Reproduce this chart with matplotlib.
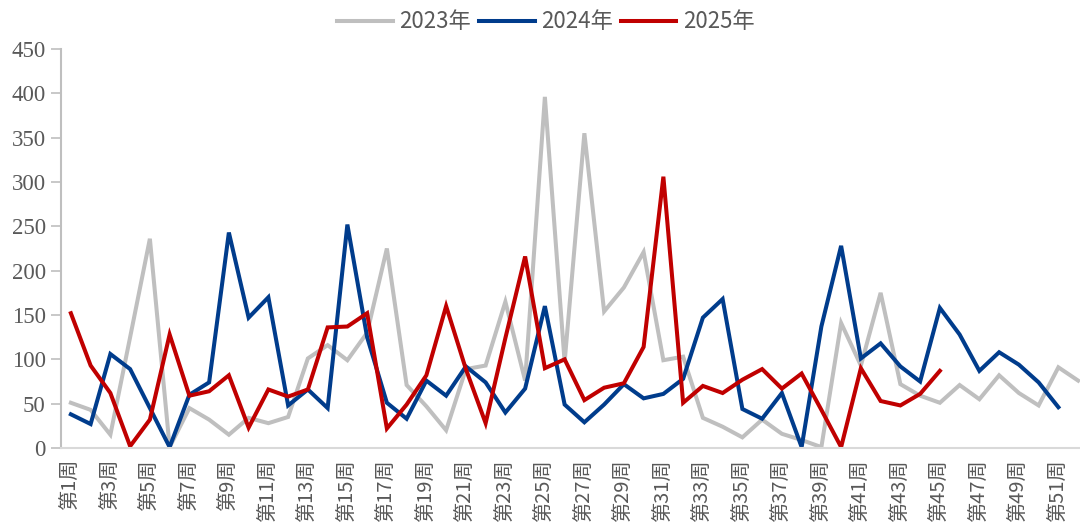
import numpy as np
import matplotlib
matplotlib.use("Agg")
import matplotlib.pyplot as plt

plt.rcParams['font.family'] = ['Noto Sans CJK SC', 'DejaVu Sans']

# datos semanales
semanas = list(range(1, 53))
etiquetas = ["第%d周" % s for s in semanas]

serie_2023 = [51, 43, 15, 125, 236, 1, 45, 32, 15, 34, 28, 35, 101, 116, 99, 130,
              225, 71, 47, 20, 89, 93, 165, 76, 396, 97, 355, 154, 181, 221, 99, 103,
              34, 24, 12, 32, 16, 9, 1, 141, 93, 175, 72, 59, 51, 71, 55, 82,
              62, 48, 91, 76]
serie_2024 = [38, 27, 106, 89, 45, 1, 60, 74, 243, 147, 170, 48, 66, 45, 252, 125,
              51, 33, 76, 59, 92, 74, 40, 67, 160, 49, 29, 49, 72, 56, 61, 78,
              147, 168, 44, 33, 62, 1, 137, 228, 101, 118, 92, 75, 158, 128, 87, 108,
              94, 74, 46]
serie_2025 = [152, 93, 62, 2, 32, 128, 59, 64, 82, 23, 66, 58, 66, 136, 137, 152,
              22, 49, 82, 160, 89, 28, 124, 216, 90, 100, 54, 68, 73, 114, 306, 51,
              70, 62, 77, 89, 67, 84, 43, 1, 90, 53, 48, 61, 87]

nombres = ["2023年", "2024年", "2025年"]
colores = ["#bfbfbf", "#003c8c", "#c00000"]

#%%
fig = plt.figure(figsize=(10.8, 5.31), dpi=100)
ax = fig.add_axes([61 / 1080, 83 / 531, 1027 / 1080, 399 / 531])

for serie, nombre, color in zip([serie_2023, serie_2024, serie_2025], nombres, colores):
    ax.plot(semanas[:len(serie)], serie, color=color, lw=2.9, label=nombre,
            solid_joinstyle='miter')

ax.set_xlim(0.5, 52.5)
ax.set_ylim(0, 450)
ax.set_yticks(np.arange(0, 451, 50))

# solo semanas impares en el eje x
ax.set_xticks(semanas[::2])
ax.set_xticklabels(etiquetas[::2], rotation=90, fontsize=14.5, color="#595959",
                   family=['Noto Sans CJK SC', 'DejaVu Sans'], fontweight='light')
for t in ax.get_yticklabels():
    t.set_family('Liberation Serif')
    t.set_fontsize(16.5)
    t.set_color("#595959")

ax.tick_params(axis='x', length=0, pad=8)
ax.tick_params(axis='y', length=7, width=1.2, color="#bfbfbf", pad=4)

for lado in ['top', 'right']:
    ax.spines[lado].set_visible(False)
ax.spines['left'].set_color("#bfbfbf")
ax.spines['left'].set_linewidth(1.5)
ax.spines['bottom'].set_color("#d9d9d9")
ax.spines['bottom'].set_linewidth(1.5)

leg = fig.legend(loc='center', bbox_to_anchor=(546 / 1080, 1 - 22 / 531), ncol=3,
                 frameon=False, fontsize=16, handlelength=2.5, handletextpad=0.3,
                 columnspacing=0.35)
for t in leg.get_texts():
    t.set_color("#595959")

fig.savefig("out.png", dpi=100)
